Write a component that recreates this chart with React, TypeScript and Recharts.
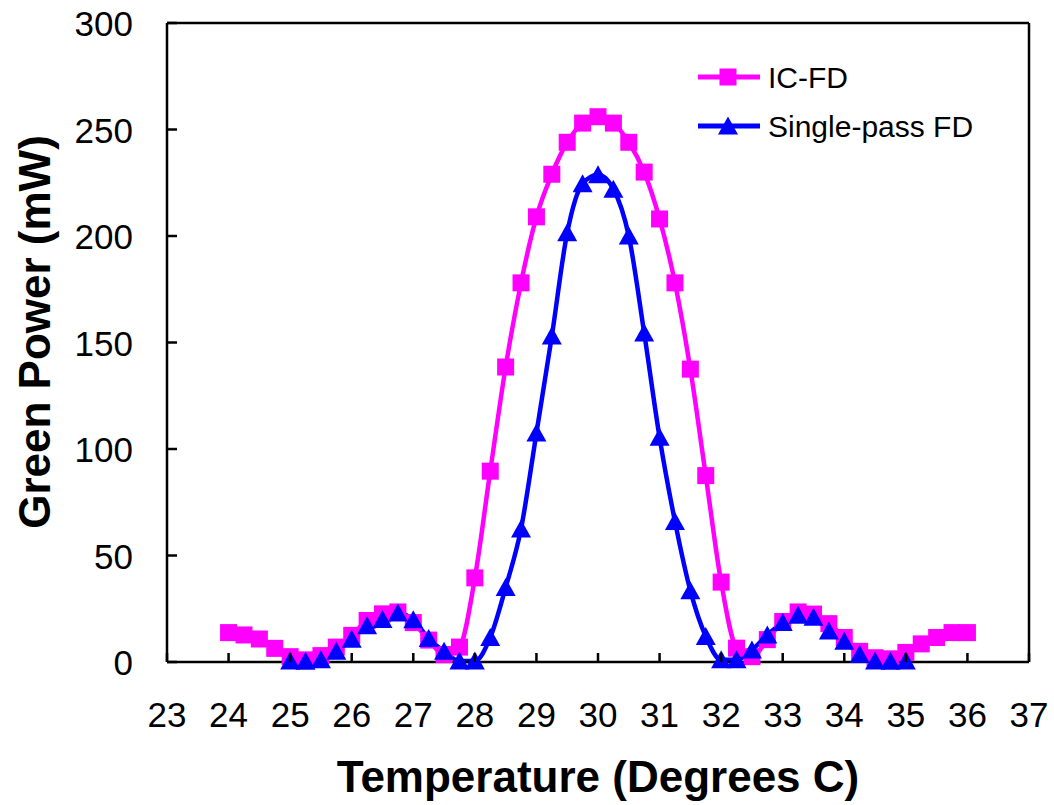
import { Legend, Line, LineChart, ReferenceLine, XAxis, YAxis } from "recharts";

const icTemps = [
  24, 24.25, 24.5, 24.75, 25, 25.25, 25.5, 25.75, 26, 26.25, 26.5, 26.75, 27,
  27.25, 27.5, 27.75, 28, 28.25, 28.5, 28.75, 29, 29.25, 29.5, 29.75, 30,
  30.25, 30.5, 30.75, 31, 31.25, 31.5, 31.75, 32, 32.25, 32.5, 32.75, 33,
  33.25, 33.5, 33.75, 34, 34.25, 34.5, 34.75, 35, 35.25, 35.5, 35.75, 36,
];
const icPower = [
  13.8, 12.7, 10.8, 6.4, 2.5, 1, 3, 7, 12.5, 19.5, 22.6, 23.5, 18.5, 10.3, 3.5,
  7, 39.5, 89.6, 138.5, 178, 209, 229, 244, 253, 256, 253, 244, 230, 208, 178,
  137.5, 87.5, 37.5, 6.5, 2.5, 10.5, 19, 23.5, 22.5, 18, 11.5, 5, 2, 1.5, 4.5,
  8.5, 11.5, 13.8, 13.8,
];

const spTemps = [
  25, 25.25, 25.5, 25.75, 26, 26.25, 26.5, 26.75, 27, 27.25, 27.5, 27.75, 28,
  28.25, 28.5, 28.75, 29, 29.25, 29.5, 29.75, 30, 30.25, 30.5, 30.75, 31,
  31.25, 31.5, 31.75, 32, 32.25, 32.5, 32.75, 33, 33.25, 33.5, 33.75, 34,
  34.25, 34.5, 34.75, 35,
];
const spPower = [
  0.5, 0.3, 1, 5, 10.7, 17, 20, 23, 19.8, 11, 5, 0.5, 0.5, 11.5, 35, 62.5,
  107.5, 153, 201.5, 224.5, 228.7, 222, 200, 154.5, 105.5, 66, 33.5, 12, 1, 1,
  5.6, 12.7, 18.5, 22, 21, 14.5, 9.8, 3.5, 0.5, 0.3, 0.5,
];

const xTicks = [23, 24, 25, 26, 27, 28, 29, 30, 31, 32, 33, 34, 35, 36, 37];
const yTicks = [0, 50, 100, 150, 200, 250, 300];

const icData = icTemps.map((t, i) => ({ t, p: icPower[i] }));
const spData = spTemps.map((t, i) => ({ t, p: spPower[i] }));

const FONT = '"Liberation Sans", Arial, sans-serif';
const MAGENTA = "#FF00FF";
const BLUE = "#0000FF";

function SquareDot(props: any) {
  const { cx, cy } = props;
  if (cx == null || cy == null) return null;
  return <rect x={cx - 8.5} y={cy - 8.5} width={17} height={17} fill={MAGENTA} />;
}

function TriangleDot(props: any) {
  const { cx, cy } = props;
  if (cx == null || cy == null) return null;
  return (
    <polygon
      points={`${cx},${cy - 9.5} ${cx + 10},${cy + 8.5} ${cx - 10},${cy + 8.5}`}
      fill={BLUE}
    />
  );
}

function XTick({ x, y, payload }: any) {
  return (
    <g>
      <line x1={x} x2={x} y1={y} y2={y - 9} stroke="#000" strokeWidth={2.5} />
      <text x={x} y={y + 65} textAnchor="middle" fontSize={35} fontFamily={FONT} fill="#000">
        {payload.value}
      </text>
    </g>
  );
}

function YTick({ x, y, payload }: any) {
  return (
    <g>
      <line x1={x} x2={x + 10} y1={y} y2={y} stroke="#000" strokeWidth={2.5} />
      <text x={x - 34} y={y + 13} textAnchor="end" fontSize={35} fontFamily={FONT} fill="#000">
        {payload.value}
      </text>
    </g>
  );
}

function XTitle() {
  return (
    <text x={598} y={792} textAnchor="middle" fontSize={44} fontWeight="bold" fontFamily={FONT} fill="#000">
      Temperature (Degrees C)
    </text>
  );
}

function YTitle() {
  return (
    <text
      x={50}
      y={332}
      transform="rotate(-90 50 332)"
      textAnchor="middle"
      fontSize={44}
      fontWeight="bold"
      fontFamily={FONT}
      fill="#000"
    >
      Green Power (mW)
    </text>
  );
}

const legendItems = [
  { name: "IC-FD", color: MAGENTA, shape: "square" },
  { name: "Single-pass FD", color: BLUE, shape: "triangle" },
];

function LegendBox() {
  return (
    <svg width={300} height={100} style={{ display: "block" }}>
      {legendItems.map((item, i) => {
        const cy = 22 + i * 49;
        return (
          <g key={item.name}>
            <line x1={8} x2={70} y1={cy} y2={cy} stroke={item.color} strokeWidth={5} />
            {item.shape === "square" ? (
              <rect x={29.5} y={cy - 8.5} width={17} height={17} fill={item.color} />
            ) : (
              <polygon
                points={`38,${cy - 9.5} 48,${cy + 8.5} 28,${cy + 8.5}`}
                fill={item.color}
              />
            )}
            <text x={78} y={cy + 10.5} fontSize={30} fontFamily={FONT} fill="#000">
              {item.name}
            </text>
          </g>
        );
      })}
    </svg>
  );
}

export default function App() {
  return (
    <div style={{ width: 1054, height: 805, background: "#fff" }}>
      <style>{"body{margin:0}"}</style>
      <LineChart width={1054} height={805} margin={{ top: 23, right: 25, bottom: 0, left: 0 }}>
        <XAxis
          type="number"
          dataKey="t"
          domain={[23, 37]}
          ticks={xTicks}
          interval={0}
          height={143}
          tickSize={0}
          tickMargin={0}
          tick={<XTick />}
          axisLine={{ stroke: "#000", strokeWidth: 2.5 }}
          label={<XTitle />}
        />
        <YAxis
          type="number"
          domain={[0, 300]}
          ticks={yTicks}
          interval={0}
          width={167}
          tickSize={0}
          tickMargin={0}
          tick={<YTick />}
          axisLine={{ stroke: "#000", strokeWidth: 2.5 }}
          label={<YTitle />}
        />
        <ReferenceLine y={300} stroke="#000" strokeWidth={2.5} />
        <ReferenceLine x={37} stroke="#000" strokeWidth={2.5} />
        <Legend
          layout="vertical"
          align="center"
          verticalAlign="middle"
          content={<LegendBox />}
          wrapperStyle={{ position: "absolute", left: 690, top: 55, width: 300 }}
        />
        <Line
          data={icData}
          dataKey="p"
          name="IC-FD"
          type="monotone"
          stroke={MAGENTA}
          strokeWidth={4.5}
          dot={SquareDot}
          activeDot={false}
          isAnimationActive={false}
        />
        <Line
          data={spData}
          dataKey="p"
          name="Single-pass FD"
          type="monotone"
          stroke={BLUE}
          strokeWidth={4.5}
          dot={TriangleDot}
          activeDot={false}
          isAnimationActive={false}
        />
      </LineChart>
    </div>
  );
}
